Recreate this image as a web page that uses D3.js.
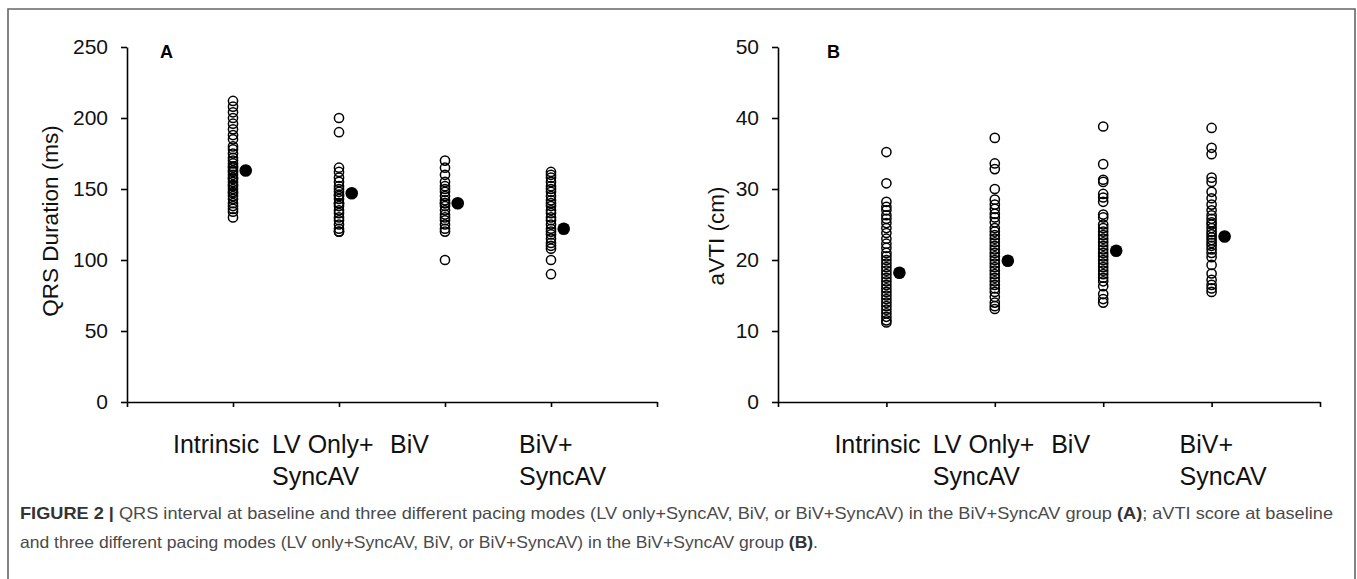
<!DOCTYPE html>
<html><head><meta charset="utf-8">
<script src="https://cdn.jsdelivr.net/npm/d3@7"></script>
<style>html,body{margin:0;padding:0;background:#fff;}svg{display:block;}</style>
</head><body>
<svg id="c" width="1357" height="579"></svg>
<script>
const categories = [["Intrinsic"], ["LV Only+", "SyncAV"], ["BiV"], ["BiV+", "SyncAV"]];

const qrsIntrinsic = [212,208,204,200,196,192,188,185,180,178,175,172,170,168,166,165,163,162,160,158,157,155,153,152,150,148,147,145,143,140,138,136,134,130];
const qrsLV = [200,190,165,162,158,155,152,150,148,146,145,143,140,140,138,135,133,130,128,125,122,120,120];
const qrsBiV = [170,165,160,155,152,150,148,145,142,140,140,138,135,132,130,128,125,122,120,100];
const qrsBiVSync = [162,160,158,155,152,150,148,145,142,140,138,135,133,130,128,125,122,120,118,115,112,110,108,100,90];
const qrsMeans = [163,147,140,122];

const vtiIntrinsic = [35.2,30.8,28.2,27.5,27,26.3,25.8,25.2,24.5,23.8,23,22.3,21.7,21,20.5,20,19.5,19,18.5,18,17.5,17,16.5,16,15.5,15,14.5,14,13.5,13,12.5,12,11.5,11.2];
const vtiLV = [37.2,33.6,32.8,30,28.5,27.8,27.2,26.5,26,25.3,24.5,24,23.5,23,22.5,22,21.5,21,20.5,20,19.5,19,18.5,18,17.5,17,16.5,16,15.5,14.8,14,13.5,13.1];
const vtiBiV = [38.8,33.5,31.3,31,29.3,28.8,28.2,26.4,26,25,24.5,24,23.5,23,22.5,22,21.5,21,20.5,20,19.5,19,18.5,18,17.5,17,16.3,15.2,14.5,14];
const vtiBiVSync = [38.6,35.8,34.9,31.6,31,29.6,28.7,27.8,27,26.3,25.8,25.3,25,24.5,24,23.6,23.2,22.8,22.4,22,21.5,21,20.4,19.3,18.1,17.2,16.5,16,15.5];
const vtiMeans = [18.2,19.9,21.3,23.3];

const qrsTicks = [0,50,100,150,200,250];
const vtiTicks = [0,10,20,30,40,50];

const svg = d3.select("#c");
const FONT = "'Liberation Sans', Arial, Helvetica, sans-serif";

svg.append("path").attr("d","M8,600 L8,9 L1355,9 L1355,600")
  .attr("fill","none").attr("stroke","#666").attr("stroke-width",1.6);

function panel(opts){
  const g = svg.append("g");
  const x = d3.scaleLinear().domain([0,5]).range([opts.x0, opts.x1]);
  const y = d3.scaleLinear().domain([0, opts.max]).range([402, 47]);
  const ya = g.append("g").attr("transform",`translate(${opts.x0},0)`)
    .call(d3.axisLeft(y).tickValues(opts.ticks).tickSize(6).tickPadding(13).tickSizeOuter(0));
  ya.select(".domain").attr("stroke","#000").attr("stroke-width",1.6);
  ya.selectAll(".tick line").attr("stroke","#000").attr("stroke-width",1.6);
  ya.selectAll(".tick text").attr("font-family",FONT).attr("font-size",21).attr("fill","#111");
  const xa = g.append("g").attr("transform",`translate(0,402)`)
    .call(d3.axisBottom(x).tickValues([0,1,2,3,4,5]).tickSize(5).tickSizeOuter(0).tickFormat(""));
  xa.select(".domain").attr("stroke","#000").attr("stroke-width",1.6);
  xa.selectAll(".tick line").attr("stroke","#000").attr("stroke-width",1.6);
  categories.forEach((lines,i)=>{
    const lx = x(i+1) + opts.labOff[i];
    const t = g.append("text").attr("font-family",FONT).attr("font-size",25).attr("fill","#111")
      .attr("x", lx).attr("y", 453);
    lines.forEach((s,j)=>{
      t.append("tspan").attr("x", lx).attr("dy", j===0?0:32).text(s);
    });
  });
  g.append("text").attr("font-family",FONT).attr("font-size",22.5).attr("fill","#111")
    .attr("text-anchor","middle")
    .attr("transform",`translate(${opts.titleX},${opts.titleY}) rotate(-90)`)
    .text(opts.title);
  g.append("text").attr("font-family",FONT).attr("font-size",18).attr("font-weight","bold")
    .attr("x",opts.letterX).attr("y",58).text(opts.letter);
  opts.series.forEach((vals,i)=>{
    g.append("g").selectAll("circle").data(vals).join("circle")
      .attr("cx", x(i+1)).attr("cy", d=>y(d)).attr("r",4.6)
      .attr("fill","none").attr("stroke","#000").attr("stroke-width",1.5);
  });
  g.append("g").selectAll("circle").data(opts.means).join("circle")
    .attr("cx",(d,i)=>x(i+1.12)).attr("cy",d=>y(d)).attr("r",6.3)
    .attr("fill","#000");
}

panel({x0:127, x1:657, max:250, ticks:qrsTicks, title:"QRS Duration (ms)", titleX:58, titleY:221,
  letter:"A", letterX:160, series:[qrsIntrinsic,qrsLV,qrsBiV,qrsBiVSync], means:qrsMeans,
  labOff:[-60,-67,-55,-32]});
panel({x0:778, x1:1320, max:50, ticks:vtiTicks, title:"aVTI (cm)", titleX:724, titleY:236,
  letter:"B", letterX:827, series:[vtiIntrinsic,vtiLV,vtiBiV,vtiBiVSync], means:vtiMeans,
  labOff:[-52,-62,-52,-32]});

const cap1 = svg.append("text").attr("font-family",FONT).attr("font-size",16.5).attr("fill","#4a4a4a")
  .attr("x",20).attr("y",519).attr("textLength",1313).attr("lengthAdjust","spacingAndGlyphs");
cap1.append("tspan").attr("font-weight","bold").attr("fill","#333").text("FIGURE 2 | ");
cap1.append("tspan").text("QRS interval at baseline and three different pacing modes (LV only+SyncAV, BiV, or BiV+SyncAV) in the BiV+SyncAV group ");
cap1.append("tspan").attr("font-weight","bold").attr("fill","#333").text("(A)");
cap1.append("tspan").text("; aVTI score at baseline");
const cap2 = svg.append("text").attr("font-family",FONT).attr("font-size",16.5).attr("fill","#4a4a4a")
  .attr("x",20).attr("y",548).attr("textLength",798).attr("lengthAdjust","spacingAndGlyphs");
cap2.append("tspan").text("and three different pacing modes (LV only+SyncAV, BiV, or BiV+SyncAV) in the BiV+SyncAV group ");
cap2.append("tspan").attr("font-weight","bold").attr("fill","#333").text("(B)");
cap2.append("tspan").text(".");
</script>
</body></html>
